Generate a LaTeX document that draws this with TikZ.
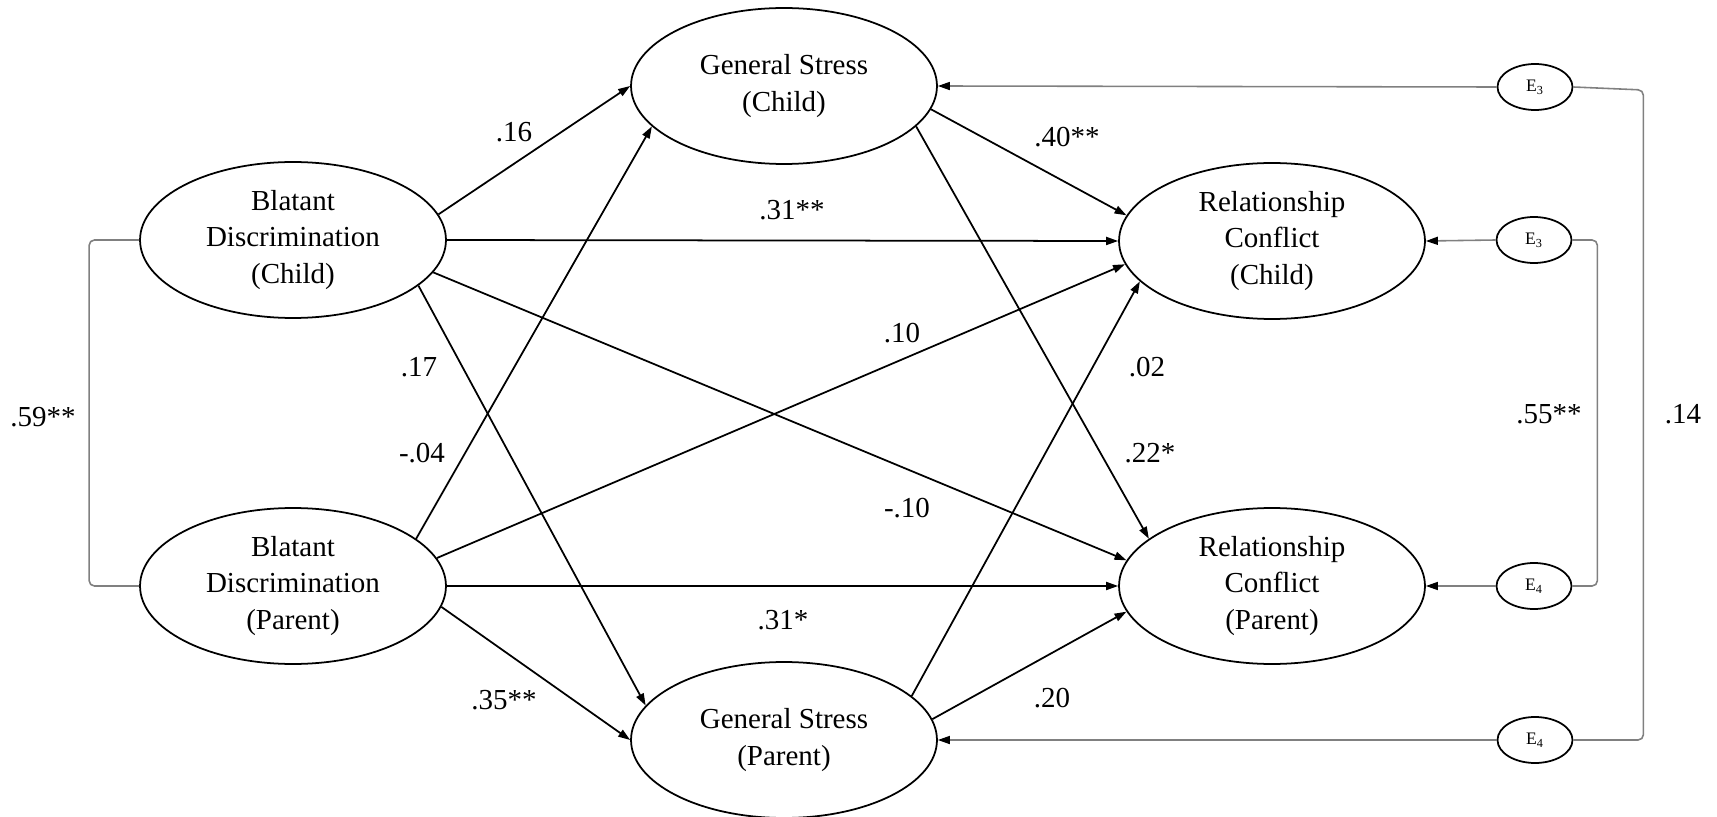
\documentclass[tikz,border=0pt]{standalone}
\usepackage{fontspec}
\setmainfont{Liberation Serif}
\usetikzlibrary{arrows.meta,shapes.geometric}
\begin{document}
\begin{tikzpicture}[x=0.02cm,y=-0.02cm,
  latent/.style={ellipse,draw,line width=1pt,inner sep=0pt,
    minimum width=6.12cm,minimum height=3.12cm,align=center,
    font=\fontsize{16.5}{21}\selectfont},
  resid/.style={ellipse,draw,line width=1pt,inner sep=0pt,
    minimum width=1.5cm,minimum height=0.92cm,
    font=\fontsize{10}{12}\selectfont},
  effect/.style={line width=1pt,-{Triangle[length=2.4mm,width=1.6mm]}},
  errpath/.style={line width=0.9pt,draw=black!50,-{Triangle[length=2.4mm,width=1.6mm,color=black]}},
  corr/.style={line width=0.9pt,draw=black!50,rounded corners=3pt},
  coef/.style={inner sep=1pt,font=\fontsize{16.5}{20}\selectfont}]
\useasboundingbox (0,0) rectangle (1717,817);

% latent variables
\node[latent] (bdc) at (293,240) {Blatant\\Discrimination\\(Child)};
\node[latent] (bdp) at (293,586) {Blatant\\Discrimination\\(Parent)};
\node[latent] (gsc) at (784,86) {General Stress\\(Child)};
\node[latent] (gsp) at (784,740) {General Stress\\(Parent)};
\node[latent] (rcc) at (1272,241) {Relationship\\Conflict\\(Child)};
\node[latent] (rcp) at (1272,586) {Relationship\\Conflict\\(Parent)};

% residual terms
\node[resid] (e3a) at (1535,87) {E\textsubscript{3}};
\node[resid] (e3b) at (1534,240) {E\textsubscript{3}};
\node[resid] (e4a) at (1534,586) {E\textsubscript{4}};
\node[resid] (e4b) at (1535,740) {E\textsubscript{4}};

% structural paths
\draw[effect] (bdc.10.5) -- (gsc.west);
\draw[effect] (bdp.21) -- (gsc.197);
\draw[effect] (gsc.-9) -- (rcc.170);
\draw[effect] (bdc.east) -- (rcc.west);
\draw[effect] (bdp.11.6) -- (rcc.189);
\draw[effect] (gsp.19) -- (rcc.197.6);
\draw[effect] (gsc.-17) -- (rcp.159);
\draw[effect] (bdc.-13) -- (rcp.170.7);
\draw[effect] (bdp.east) -- (rcp.west);
\draw[effect] (gsp.8) -- (rcp.190);
\draw[effect] (bdc.-20.8) -- (gsp.166.6);
\draw[effect] (bdp.-8) -- (gsp.west);

% residual paths
\draw[errpath] (e3a.west) -- (gsc.east);
\draw[errpath] (e3b.west) -- (rcc.east);
\draw[errpath] (e4a.west) -- (rcp.east);
\draw[errpath] (e4b.west) -- (gsp.east);

% correlations
\draw[corr] (bdc.west) -- ++(-50,0) |- (bdp.west);
\draw[corr] (e3b.east) -- ++(25,0) |- (e4a.east);
\draw[corr] (e3a.east) -- ++(70,3) |- (e4b.east);

% coefficients
\node[coef] (c1) at (514,132) {.16};
\node[coef] (c2) at (1067,137) {.40**};
\node[coef] (c3) at (792,210) {.31**};
\node[coef] (c4) at (902,333) {.10};
\node[coef] (c5) at (419,367) {.17};
\node[coef] (c6) at (422,453) {-.04};
\node[coef] (c7) at (1147,367) {.02};
\node[coef] (c8) at (1150,453) {.22*};
\node[coef] (c9) at (907,508) {-.10};
\node[coef] (c10) at (783,620) {.31*};
\node[coef] (c11) at (504,700) {.35**};
\node[coef] (c12) at (1052,698) {.20};
\node[coef] (c13) at (43,417) {.59**};
\node[coef] (c14) at (1549,414) {.55**};
\node[coef] (c15) at (1683,414) {.14};
\end{tikzpicture}
\end{document}
